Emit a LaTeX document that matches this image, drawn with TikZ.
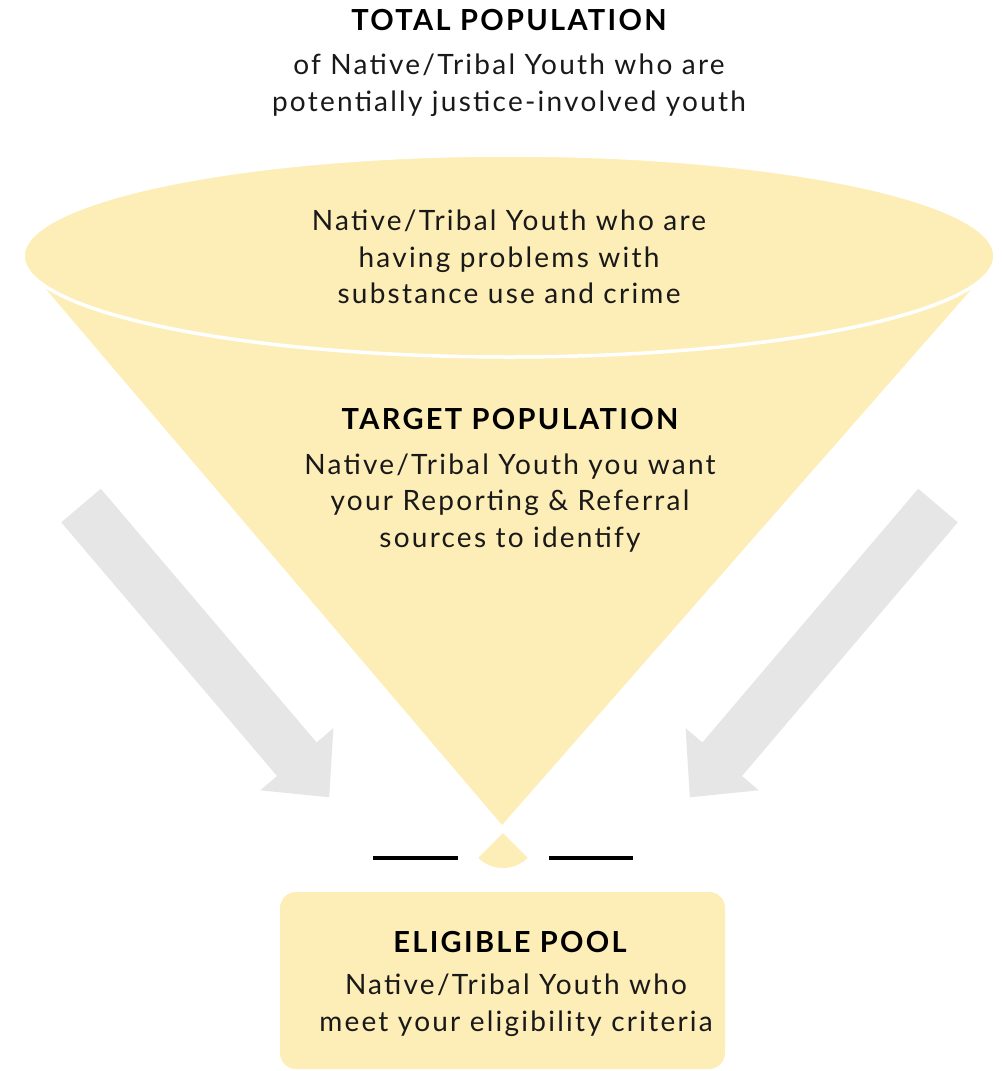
\documentclass[tikz,border=0pt]{standalone}
\usepackage{fontspec}
\setmainfont{Lato}[LetterSpace=8]
\begin{document}
\begin{tikzpicture}[x=1pt,y=-1pt,
  txt/.style={font=\fontsize{28}{36.5}\selectfont, align=center, inner sep=0pt, text=black!90},
  ttl/.style={font=\fontsize{29}{36}\selectfont\bfseries, inner sep=0pt, text=black},
  funnelfill/.style={fill=fyellow},
  greyarrow/.style={fill=agrey},
  bar/.style={line width=4pt, black}]
\definecolor{fyellow}{RGB}{253,237,182}
\definecolor{agrey}{RGB}{230,230,230}
\useasboundingbox (0,0) rectangle (1002,1071);
% grey arrows
\fill[greyarrow] (100.8,488.7) -- (316.6,742.4) -- (333.4,728.1) -- (329.2,797.3) -- (260.2,790.3) -- (277,776) -- (61.2,522.3) -- cycle;
\fill[greyarrow] (918.2,488.7) -- (702.4,742.4) -- (685.6,728.1) -- (689.8,797.3) -- (758.8,790.3) -- (742,776) -- (957.8,522.3) -- cycle;
% funnel cone
\coordinate (apex) at (502,825);
\fill[funnelfill] (apex) -- (28,268) -- (990,268) -- cycle;
% ellipse top
\coordinate (ec) at (509,256);
\fill[funnelfill, draw=white, line width=3.5pt] (ec) ellipse [x radius=486pt, y radius=101pt];
% small wedge
\coordinate (wc) at (503,833);
\fill[funnelfill] (wc) -- (478.25,857.75) arc[start angle=-135, end angle=-45, radius=35pt] -- cycle;
% bars
\coordinate (b1) at (373,858); \coordinate (b2) at (458,858);
\coordinate (b3) at (549,858); \coordinate (b4) at (633,858);
\draw[bar] (b1) -- (b2);
\draw[bar] (b3) -- (b4);
% eligible box
\node[funnelfill, rounded corners=16pt, minimum width=445pt, minimum height=177pt, inner sep=0pt] (box) at (502.5,980.5) {};
% texts
\node[ttl] (t1) at (509,20) {TOTAL POPULATION};
\node[txt] (t2) at (509,85) {of Native/Tribal Youth who are\\potentially justice-involved youth};
\node[txt] (t3) at (509,257) {Native/Tribal Youth who are\\having problems with\\substance use and crime};
\node[ttl] (t4) at (510,419) {TARGET POPULATION};
\node[txt] (t5) at (510,503) {Native/Tribal Youth you want\\your Reporting \& Referral\\sources to identify};
\node[ttl] (t6) at (510,942) {ELIGIBLE POOL};
\node[txt] (t7) at (516,1005) {Native/Tribal Youth who\\meet your eligibility criteria};
\end{tikzpicture}
\end{document}
